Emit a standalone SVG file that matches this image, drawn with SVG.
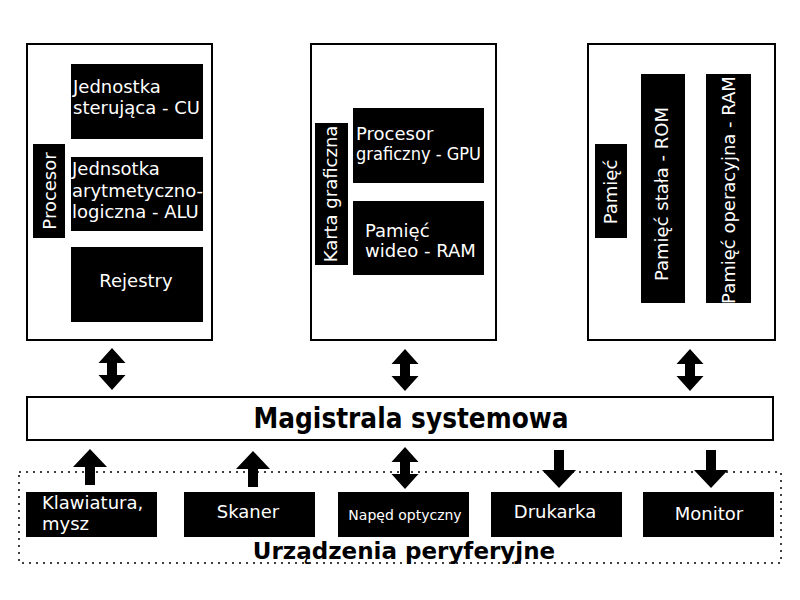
<svg xmlns="http://www.w3.org/2000/svg" xmlns:xlink="http://www.w3.org/1999/xlink" width="800" height="600" viewBox="0 0 800 600">
<style>
.frame{fill:#fff;stroke:#000;stroke-width:2}
.blk{fill:#000}
.t{font-family:"DejaVu Sans",Verdana,sans-serif;font-size:18px;fill:#fff}
.ts{font-family:"DejaVu Sans",Verdana,sans-serif;font-size:14px;fill:#fff}
.c{text-anchor:middle}
.title{font-family:"DejaVu Sans Condensed","DejaVu Sans",sans-serif;font-weight:bold;font-size:29px;fill:#000;text-anchor:middle}
.sub{font-family:"DejaVu Sans",Verdana,sans-serif;font-weight:bold;font-size:23px;fill:#000;text-anchor:middle}
.dots{fill:none;stroke:#000;stroke-width:1.5;stroke-dasharray:2 5}
.arr{fill:#000}
</style>
<defs>
<path id="dbl" d="M0,0 L13.5,15 L5,15 L5,27 L13.5,27 L0,42 L-13.5,27 L-5,27 L-5,15 L-13.5,15 Z"/>
<path id="up" d="M0,0 L17,18 L5,18 L5,36 L-5,36 L-5,18 L-17,18 Z"/>
<path id="down" d="M0,38 L17,20 L5,20 L5,0 L-5,0 L-5,20 L-17,20 Z"/>
</defs>
<rect width="800" height="600" fill="#fff"/>

<g id="peripherals-frame">
<rect class="dots" x="19" y="472" width="762" height="91"/>
<text class="sub" x="404" y="559">Urządzenia peryferyjne</text>
</g>

<g id="processor">
<rect class="frame" x="27" y="44" width="185" height="296"/>
<rect class="blk" x="33" y="144" width="32" height="94"/>
<text class="t c" transform="translate(56,191) rotate(-90)">Procesor</text>
</g>
<g id="cu">
<rect class="blk" x="71" y="64" width="132" height="75"/>
<text class="t" x="73" y="93">Jednostka</text>
<text class="t" x="73" y="114">sterująca - CU</text>
</g>
<g id="alu">
<rect class="blk" x="71" y="157" width="132" height="74"/>
<text class="t" x="72" y="175">Jednsotka</text>
<text class="t" x="72" y="197">arytmetyczno-</text>
<text class="t" x="72" y="218">logiczna - ALU</text>
</g>
<g id="rejestry">
<rect class="blk" x="71" y="247" width="132" height="75"/>
<text class="t c" x="136" y="287">Rejestry</text>
</g>

<g id="karta">
<rect class="frame" x="311" y="44" width="185" height="296"/>
<rect class="blk" x="315" y="123" width="33" height="142"/>
<text class="t c" transform="translate(337,194) rotate(-90)">Karta graficzna</text>
</g>
<g id="gpu">
<rect class="blk" x="353" y="108" width="131" height="75"/>
<text class="t" x="356" y="140">Procesor</text>
<text class="t" x="356" y="160" textLength="125" lengthAdjust="spacingAndGlyphs">graficzny - GPU</text>
</g>
<g id="vram">
<rect class="blk" x="353" y="201" width="131" height="74"/>
<text class="t" x="365" y="237">Pamięć</text>
<text class="t" x="365" y="257">wideo - RAM</text>
</g>

<g id="pamiec">
<rect class="frame" x="588" y="44" width="187" height="296"/>
<rect class="blk" x="595" y="144" width="32" height="94"/>
<text class="t c" transform="translate(617,192) rotate(-90)">Pamięć</text>
</g>
<g id="rom">
<rect class="blk" x="641" y="74" width="44" height="229"/>
<text class="t c" transform="translate(668,194) rotate(-90)">Pamięć stała - ROM</text>
</g>
<g id="ram">
<rect class="blk" x="706" y="74" width="45" height="229"/>
<text class="t c" transform="translate(735,190) rotate(-90)">Pamięć operacyjna - RAM</text>
</g>

<g id="magistrala">
<rect class="frame" x="27" y="397" width="746" height="43"/>
<text class="title" x="411" y="428" textLength="315" lengthAdjust="spacingAndGlyphs">Magistrala systemowa</text>
</g>

<g id="klawiatura">
<rect class="blk" x="26" y="492" width="131" height="45"/>
<text class="t" x="42" y="509">Klawiatura,</text>
<text class="t" x="42" y="530">mysz</text>
</g>
<g id="skaner">
<rect class="blk" x="184" y="492" width="131" height="45"/>
<text class="t c" x="248" y="518">Skaner</text>
</g>
<g id="naped">
<rect class="blk" x="338" y="492" width="131" height="45"/>
<text class="ts c" x="405" y="520">Napęd optyczny</text>
</g>
<g id="drukarka">
<rect class="blk" x="491" y="492" width="131" height="45"/>
<text class="t c" x="555" y="518">Drukarka</text>
</g>
<g id="monitor">
<rect class="blk" x="643" y="492" width="131" height="45"/>
<text class="t c" x="709" y="520">Monitor</text>
</g>

<g id="connectors" class="arr">
<use xlink:href="#dbl" x="112" y="348"/>
<use xlink:href="#dbl" x="405" y="349"/>
<use xlink:href="#dbl" x="690" y="349"/>
<use xlink:href="#up" x="90" y="449"/>
<use xlink:href="#up" x="253" y="451"/>
<use xlink:href="#dbl" x="405" y="447"/>
<use xlink:href="#down" x="559" y="450"/>
<use xlink:href="#down" x="711" y="450"/>
</g>
</svg>
